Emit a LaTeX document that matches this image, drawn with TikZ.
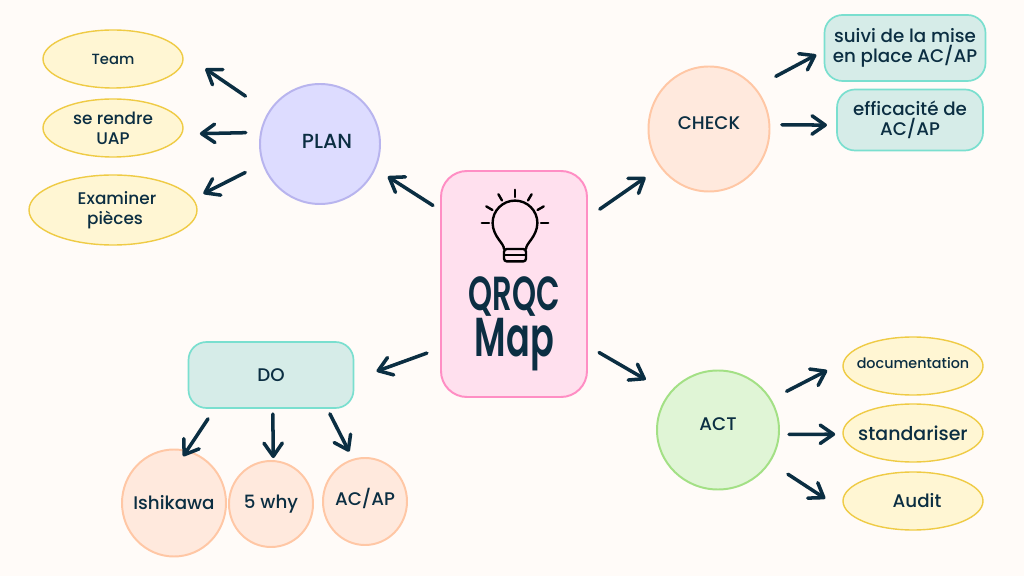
\documentclass[tikz,border=0pt]{standalone}
\usepackage{fontspec}
\setmainfont{Poppins Medium}
\newfontfamily\titlefont{Poppins SemiBold}
\usetikzlibrary{
  arrows.meta,
  shapes.geometric
}
\definecolor{pagecol}{HTML}{FFFBF8}
\definecolor{inkcol}{HTML}{0B2E42}
\definecolor{pinkfill}{HTML}{FFE0EE}
\definecolor{pinkline}{HTML}{FF8EC4}
\definecolor{purplefill}{HTML}{DDDCFF}
\definecolor{purpleline}{HTML}{B8B4EE}
\definecolor{yellowfill}{HTML}{FFF6D3}
\definecolor{yellowline}{HTML}{EFCB45}
\definecolor{orangefill}{HTML}{FFE9DD}
\definecolor{orangeline}{HTML}{FFC7A5}
\definecolor{tealfill}{HTML}{D6ECE8}
\definecolor{tealline}{HTML}{7ADFCF}
\definecolor{greenfill}{HTML}{E0F5D6}
\definecolor{greenline}{HTML}{A3E085}

\begin{document}
\begin{tikzpicture}[
  font=\fontsize{12}{14}\selectfont,
  text=inkcol,
  bigger/.style={font=\fontsize{13}{14}\selectfont},
  blob/.style={
    ellipse, line width=1.4pt, inner sep=-1cm, align=center
  },
  planblob/.style={blob, draw=purpleline, fill=purplefill},
  yellowblob/.style={blob, line width=1pt, draw=yellowline, fill=yellowfill, minimum width=3.5cm, minimum height=1.45cm},
  orangeblob/.style={blob, draw=orangeline, fill=orangefill, bigger},
  greenblob/.style={blob, draw=greenline, fill=greenfill, bigger},
  tealbox/.style={
    rectangle, rounded corners=0.45cm, line width=1.2pt,
    draw=tealline, fill=tealfill, align=center, bigger
  },
  titletext/.style={inner sep=0pt, xscale=0.64, align=center, font=\titlefont\fontsize{34}{33}\selectfont},
  bulbline/.style={black, line width=1.7pt, line cap=round},
  arrow/.style={-{Straight Barb[length=3.3mm,width=4.6mm,round]}, inkcol, line width=2.5pt, line cap=round},
]
\useasboundingbox (0,0) rectangle (25.6,14.4);
\fill[pagecol] (0,0) rectangle (25.6,14.4);

% Centre
\node[rectangle, rounded corners=0.65cm, line width=1.4pt, draw=pinkline, fill=pinkfill,
  minimum width=3.65cm, minimum height=5.65cm] (qrqc) at (12.85, 7.3) {};
\node[titletext] (qrqctext) at (12.86, 6.3) {QRQC\\\fontsize{39}{33}\selectfont Map};

% Bulb
\begin{scope}[shift={(12.875, 8.825)}]
  \foreach \a in {0,30,...,180}
    \draw[bulbline] (\a:0.65) -- (\a:0.83);
  \draw[bulbline] (-0.275,-0.65) .. controls (-0.275,-0.5) and (-0.55,-0.35) .. (-0.56,0)
    arc[start angle=180, end angle=0, radius=0.56]
    .. controls (0.55,-0.35) and (0.275,-0.5) .. (0.275,-0.65);
  \draw[bulbline, rounded corners=2pt] (-0.275,-0.65) -- (-0.275,-0.96) -- (0.275,-0.96) -- (0.275,-0.65) -- cycle;
  \draw[bulbline] (-0.275,-0.8) -- (0.275,-0.8);
\end{scope}

% Plan
\node[planblob, minimum size=3cm, font=\fontsize{14.5}{14}\selectfont, text depth=0.15cm] (plan) at (8.0, 10.8) {\hspace*{.35cm}PLAN};
\node[yellowblob, font=\fontsize{10.5}{14}\selectfont] (team) at (2.825, 12.925) {Team};
\node[yellowblob] (rendre) at (2.825, 11.2) {se rendre\\UAP};
\node[yellowblob, minimum width=4.2cm, minimum height=1.75cm] (examiner) at (2.825, 9.15) {\hspace*{.2cm}Examiner\\\hspace*{.1cm}pièces};

% Check
\node[orangeblob, minimum width=3.025cm, minimum height=3.125cm, text depth=0.3cm] (check) at (17.725, 11.175) {CHECK};
\node[tealbox, minimum width=4.025cm, minimum height=1.65cm] (suivi) at (22.625, 13.2) {suivi de la mise\\en place AC/AP};
\node[tealbox, minimum width=3.65cm, minimum height=1.525cm] (efficacite) at (22.75, 11.4) {efficacité de\\AC/AP};

% Do
\node[tealbox, minimum width=4.125cm, minimum height=1.65cm] (do) at (6.775, 5.025) {DO};
\node[orangeblob, minimum width=2.6cm, minimum height=2.675cm] (ishikawa) at (4.35, 1.825) {Ishikawa};
\node[orangeblob, minimum width=2.1cm, minimum height=2.15cm] (why) at (6.775, 1.8) {5 why};
\node[orangeblob, minimum width=2.1cm, minimum height=2.175cm, text depth=0.25cm] (acap) at (9.125, 1.8625) {AC/AP};

% Act
\node[greenblob, minimum width=3.05cm, minimum height=2.975cm, text depth=0.3cm] (act) at (17.95, 3.65) {ACT};
\node[yellowblob, font=\fontsize{10.2}{14}\selectfont, text depth=0.15cm] (documentation) at (22.825, 5.25) {documentation};
\node[yellowblob, font=\fontsize{13.5}{14}\selectfont] (standariser) at (22.825, 3.575) {standariser};
\node[yellowblob, bigger] (audit) at (22.825, 1.875) {\hspace*{.2cm}Audit};

% Flows
\draw[arrow, shorten <=0.21cm, shorten >=0.36cm] (qrqc.135) -- (plan.-24);
\draw[arrow, shorten <=0.36cm, shorten >=0.44cm] (qrqc.42.5) -- (check.218);
\draw[arrow, shorten <=0.35cm, shorten >=0.59cm] (qrqc.221) -- (do.-3);
\draw[arrow, shorten <=0.32cm, shorten >=0.67cm] (qrqc.-40) -- (act.143);

\draw[arrow, shorten <=0.69cm, shorten >=0.70cm] (plan.148) -- (team.5);
\draw[arrow, shorten <=0.36cm, shorten >=0.44cm] (plan.169) -- (rendre.-5);
\draw[arrow, shorten <=0.48cm, shorten >=0.28cm] (plan.199) -- (examiner.8);

\draw[arrow, shorten <=0.58cm, shorten >=0.21cm] (check.42) -- (suivi.182);
\draw[arrow, shorten <=0.29cm, shorten >=0.23cm] (check.4) -- (efficacite.184);

\draw[arrow, shorten <=0.30cm, shorten >=-0.18cm] (do.211) -- (ishikawa.76);
\draw[arrow, shorten <=0.13cm, shorten >=0.05cm] (do.-87) -- (why.87);
\draw[arrow, shorten <=0.14cm, shorten >=0.20cm] (do.-31) -- (acap.106);

\draw[arrow, shorten <=0.43cm, shorten >=0.44cm] (act.30) -- (documentation.177);
\draw[arrow, shorten <=0.23cm, shorten >=0.18cm] (act.-4) -- (standariser.181);
\draw[arrow, shorten <=0.53cm, shorten >=0.84cm] (act.-32) -- (audit.195);

\end{tikzpicture}
\end{document}
